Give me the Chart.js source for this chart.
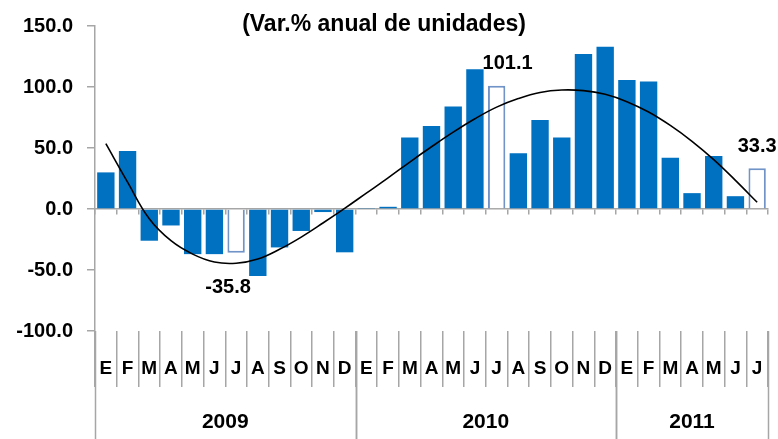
<!DOCTYPE html>
<html>
<head>
<meta charset="utf-8">
<script src="https://cdn.jsdelivr.net/npm/chart.js@4"></script>
<style>
    html, body { margin: 0; padding: 0; background: #fff; }
    #grafico-ventas { width: 778px; height: 439px; }
</style>
</head>
<body>
<div id="grafico-ventas"><canvas id="chart-ventas"></canvas></div>
<script>
// Datos del gráfico
const meses = ['E', 'F', 'M', 'A', 'M', 'J', 'J', 'A', 'S', 'O', 'N', 'D',
    'E', 'F', 'M', 'A', 'M', 'J', 'J', 'A', 'S', 'O', 'N', 'D',
    'E', 'F', 'M', 'A', 'M', 'J', 'J'];
const anos = ['2009', '2010', '2011'];
const mesesPorAno = [12, 12, 7];
const valores = [30, 47.5, -26, -13.5, -37, -37, -35.8, -55, -31.5, -18, -2.5, -35.5,
    0.4, 1.8, 58.6, 68, 84, 114.5, 101.1, 45.7, 72.9, 58.6, 127, 133,
    105.8, 104.5, 42, 13, 43.5, 10.5, 33.3];
const tendencia = [53.5, 22, -8, -26, -37, -43.5, -44.5, -41, -33, -23, -11.5, 0.5,
    13, 25.5, 38.5, 51, 63, 74, 83.5, 90.5, 95.5, 97.5, 97, 94,
    88, 79.5, 68.5, 55.5, 40.5, 23.5, 5.5];
const destacados = [6, 18, 30];
const ticksY = [-100, -50, 0, 50, 100, 150];

const fuente = '"Liberation Sans", Arial, sans-serif';
const gris = '#A6A6A6';
const azul = '#0070C0';

// Rótulos de valores destacados
const rotulosPlugin = {
    id: 'rotulos',
    afterDatasetsDraw(chart) {
        const meta = chart.getDatasetMeta(1);
        const ctx = chart.ctx;
        const desplazX = [-8, 11, 0];
        ctx.save();
        ctx.font = 'bold 20px ' + fuente;
        ctx.fillStyle = '#000';
        ctx.textAlign = 'center';
        ctx.textBaseline = 'middle';
        destacados.forEach(function (i, k) {
            const barra = meta.data[i];
            const v = valores[i];
            const y = v < 0 ? barra.y + 35 : barra.y - 22;
            ctx.fillText(v.toFixed(1), barra.x + desplazX[k], y);
        });
        ctx.restore();
    }
};

// Años y separadores debajo de los meses
const anosPlugin = {
    id: 'anos',
    afterDraw(chart) {
        const x = chart.scales.x;
        const ctx = chart.ctx;
        const y0 = chart.chartArea.bottom;
        ctx.save();
        ctx.strokeStyle = gris;
        ctx.lineWidth = 1.5;
        ctx.font = 'bold 21px ' + fuente;
        ctx.fillStyle = '#000';
        ctx.textAlign = 'center';
        ctx.textBaseline = 'middle';
        let inicio = 0;
        for (let k = 0; k < anos.length; k++) {
            const fin = inicio + mesesPorAno[k];
            const x0 = x.getPixelForValue(inicio - 0.5);
            const x1 = x.getPixelForValue(fin - 0.5);
            [x0, x1].forEach(function (px) {
                ctx.beginPath();
                ctx.moveTo(Math.round(px) + 0.5, y0);
                ctx.lineTo(Math.round(px) + 0.5, chart.height);
                ctx.stroke();
            });
            ctx.fillText(anos[k], (x0 + x1) / 2, 422);
            inicio = fin;
        }
        ctx.restore();
    }
};

const dados = {
    labels: meses,
    datasets: [{
        type: 'line',
        label: 'Tendencia',
        data: tendencia,
        borderColor: '#000',
        borderWidth: 1.6,
        pointRadius: 0,
        tension: 0.4,
        fill: false,
        order: 0
    }, {
        type: 'bar',
        label: 'Var.%',
        data: valores,
        backgroundColor: valores.map((v, i) => destacados.includes(i) ? '#FFFFFF' : azul),
        borderColor: valores.map((v, i) => destacados.includes(i) ? '#7094C8' : azul),
        borderWidth: valores.map((v, i) => destacados.includes(i) ? 2 : 0),
        barPercentage: 0.8,
        categoryPercentage: 1.0,
        order: 1
    }]
};

const config = {
    data: dados,
    options: {
        responsive: true,
        maintainAspectRatio: false,
        animation: false,
        layout: { padding: { left: 0, right: 10, top: 0, bottom: 0 } },
        plugins: {
            legend: { display: false },
            tooltip: { enabled: false },
            title: {
                display: true,
                text: '(Var.% anual de unidades)',
                color: '#000',
                font: { family: fuente, size: 23, weight: 'bold', lineHeight: 1.0 },
                padding: { top: 9, bottom: -10 }
            }
        },
        scales: {
            y: {
                min: -100,
                max: 150,
                afterBuildTicks: function (escala) {
                    escala.ticks = ticksY.map(v => ({ value: v }));
                },
                ticks: {
                    color: '#000',
                    padding: 14,
                    font: { family: fuente, size: 20, weight: 'bold' },
                    callback: v => v.toFixed(1)
                },
                grid: { drawOnChartArea: false, tickLength: 8, color: gris, lineWidth: 1.5 },
                border: { color: gris, width: 1.5 },
                afterFit: function (escala) { escala.width = 95; }
            },
            x: {
                offset: true,
                grid: { offset: true, drawOnChartArea: false, tickLength: 56, color: gris, lineWidth: 1.5 },
                border: { display: false },
                ticks: {
                    color: '#000',
                    padding: -30,
                    autoSkip: false,
                    maxRotation: 0,
                    font: { family: fuente, size: 19, weight: 'bold' }
                },
                afterFit: function (escala) { escala.height = 108; }
            },
            xCero: {
                type: 'category',
                position: { y: 0 },
                offset: true,
                grid: { offset: true, drawOnChartArea: false, tickLength: 5, color: gris, lineWidth: 1.5 },
                border: { color: gris, width: 1.5 },
                ticks: { display: false }
            }
        }
    },
    plugins: [rotulosPlugin, anosPlugin]
};

let myChart = new Chart(
    document.getElementById('chart-ventas'),
    config,
);
</script>
</body>
</html>
